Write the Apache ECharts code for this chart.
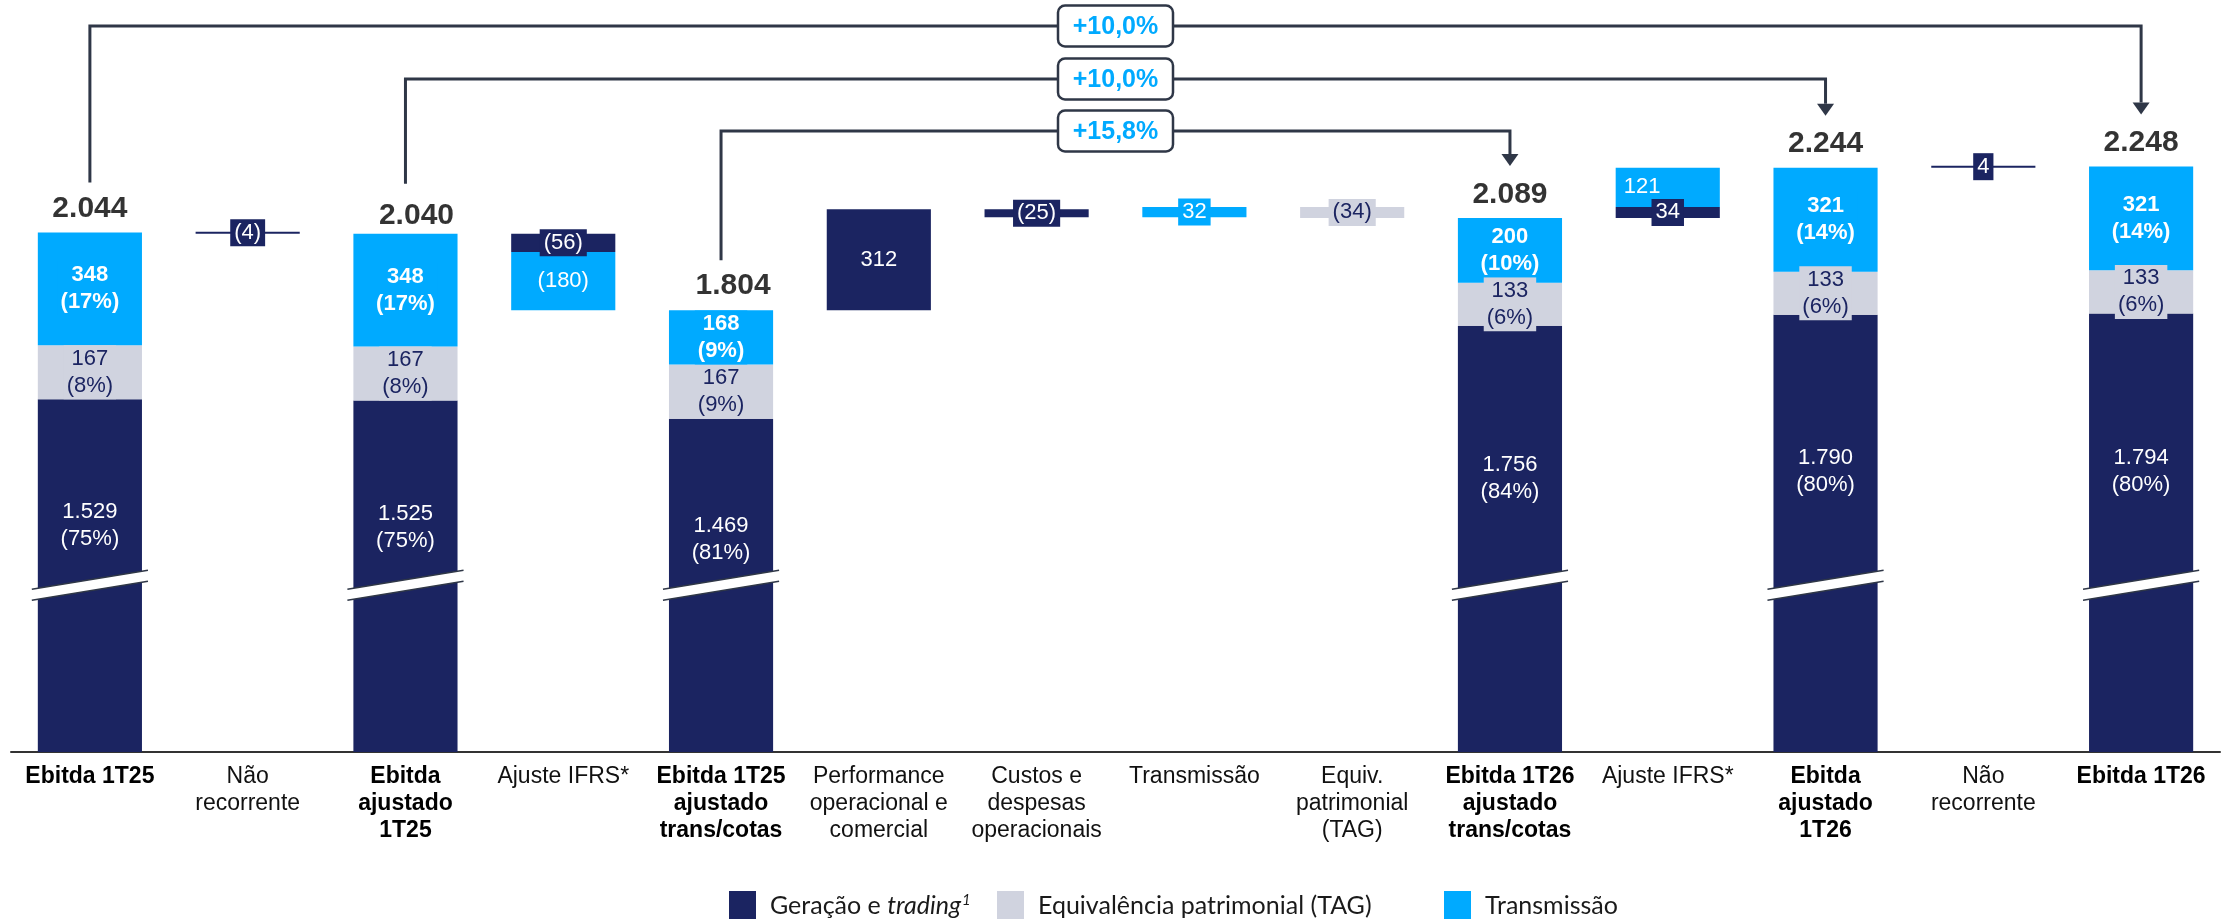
<!DOCTYPE html>
<html><head><meta charset="utf-8">
<script src="https://cdn.jsdelivr.net/npm/echarts@6/dist/echarts.min.js"></script>
<style>html,body{margin:0;padding:0;background:#fff}#c{width:2234px;height:919px}</style>
</head><body><div id="c"></div>
<script>
// ---------------- DATA ----------------
const categories = ['Ebitda 1T25','Não\nrecorrente','Ebitda\najustado\n1T25','Ajuste IFRS*','Ebitda 1T25\najustado\ntrans/cotas','Performance\noperacional e\ncomercial','Custos e\ndespesas\noperacionais','Transmissão','Equiv.\npatrimonial\n(TAG)','Ebitda 1T26\najustado\ntrans/cotas','Ajuste IFRS*','Ebitda\najustado\n1T26','Não\nrecorrente','Ebitda 1T26'];
const isTotal = [true,false,true,false,true,false,false,false,false,true,false,true,false,true];
const geracao      = [1529,null,1525,null,1469,null,null,null,null,1756,null,1790,null,1794];
const equivalencia = [167,null,167,null,167,null,null,null,null,133,null,133,null,133];
const transmissao  = [348,null,348,null,168,null,null,null,null,200,null,321,null,321];
const deltaGeracao      = [null,-4,null,-56,null,312,-25,null,null,null,34,null,4,null];
const deltaEquivalencia = [null,null,null,null,null,null,null,null,-34,null,null,null,null,null];
const deltaTransmissao  = [null,null,null,-180,null,null,null,32,null,null,121,null,null,null];
const seriesNames = ['Geração e trading','Equivalência patrimonial (TAG)','Transmissão'];
const compareFrom = [0,2,4];
const compareTo   = [13,11,9];

// ---------------- STYLE ----------------
const COLORS = ['#1B2461','#D0D3DF','#00AAFF'];
const LINE = '#2F3747';
const FONT = '"Liberation Sans", Arial, sans-serif';
const navyLabelDist = {0:99,2:100,4:94,9:126,11:130,13:131};
const totalLabelShift = {2:[11,5],4:[12,-1]};
const levelY = [26,79,131];
const legendLeft = [724, 992, 1439];
const BREAK_AT = 955;

// ---------------- BUILD ----------------
const totals = categories.map((c,i)=> isTotal[i] ? geracao[i]+equivalencia[i]+transmissao[i] : null);
const fmtN = v => { const s = String(Math.abs(v)).replace(/\B(?=(\d{3})+(?!\d))/g,'.'); return v<0 ? '('+s+')' : s; };

const segs = [];
let level = 0;
categories.forEach((c,i)=>{
  if (isTotal[i]) { level = totals[i]; segs.push(null); return; }
  const list = [];
  [deltaGeracao, deltaEquivalencia, deltaTransmissao].forEach((arr,k)=>{
    const v = arr[i]; if (v == null) return;
    const a = level, b = level + v; level = b;
    list.push({k, v, lo: Math.min(a,b), hi: Math.max(a,b)});
  });
  list.sort((p,q)=>p.lo-q.lo);
  segs.push(list);
});

const baseData = categories.map((c,i)=> isTotal[i] ? 0 : segs[i][0].lo);
const totalVals = [geracao, equivalencia, transmissao];

function deltaItem(s, i){
  const small = Math.abs(s.v) < 60;
  const txtColor = s.k === 1 ? COLORS[0] : '#fff';
  const lab = {show:true, formatter: fmtN(s.v), color: txtColor, fontFamily: FONT, fontSize: 22, lineHeight: 27,
               position: 'inside'};
  if (small) { lab.backgroundColor = COLORS[s.k]; lab.padding = [0,4]; }
  if (i === 10 && s.k === 2) { lab.position = 'insideLeft'; lab.distance = 8; }
  return {value: s.hi - s.lo, itemStyle:{color: COLORS[s.k]}, label: lab};
}

const stackSeries = [0,1,2].map(L => {
  const data = categories.map((c,i)=>{
    if (isTotal[i]) {
      const v = totalVals[L][i];
      const pct = Math.round(v / totals[i] * 100);
      const lab = {show:true, formatter: fmtN(v) + '\n(' + pct + '%)', fontFamily: FONT, fontSize: 22, lineHeight: 27};
      if (L === 0) { lab.color = '#fff'; lab.position = 'insideTop'; lab.distance = navyLabelDist[i]; }
      if (L === 1) { lab.color = COLORS[0]; lab.position = 'inside'; lab.backgroundColor = COLORS[1]; lab.padding = [0,3]; }
      if (L === 2) { lab.color = '#fff'; lab.fontWeight = 'bold'; lab.position = 'inside'; lab.backgroundColor = COLORS[2]; lab.padding = [0,3]; }
      return {value: v, label: lab};
    }
    const s = segs[i][L];
    if (!s) return {value: 0, label:{show:false}};
    return deltaItem(s, i);
  });
  return {
    name: seriesNames[L], type:'bar', stack:'w', barWidth:'66%', barMinHeight: L===0 ? 2 : 0,
    itemStyle:{color: COLORS[L]}, data, z: 3, clip: true
  };
});

const baseSeries = {
  name:'_base', type:'bar', stack:'w', barWidth:'66%', silent:true,
  itemStyle:{color:'rgba(0,0,0,0)'}, data: baseData, label:{show:false}
};

const totalSeries = {
  name:'_tot', type:'scatter', symbolSize:1, itemStyle:{color:'rgba(0,0,0,0)'}, silent:true, z:5,
  data: categories.map((c,i)=> isTotal[i] ? {value:[i, totals[i]],
    label:{offset: totalLabelShift[i] ? [totalLabelShift[i][0], totalLabelShift[i][1]] : [0,0]}} : null).filter(Boolean),
  label:{show:true, position:'top', distance:8, formatter: p => fmtN(p.value[1]),
    fontFamily: FONT, fontWeight:'bold', fontSize:30, lineHeight:30, color:'#000'}
};

const breakSeries = {
  name:'_break', type:'custom', silent:true, z:6,
  data: categories.map((c,i)=> isTotal[i] ? [i, BREAK_AT] : null).filter(Boolean),
  renderItem(params, api){
    const c = api.coord([api.value(0), api.value(1)]);
    const w = api.size([1,0])[0]*0.66 + 12;
    const xl = c[0]-w/2, xr = c[0]+w/2, cy = c[1];
    return {type:'group', children:[
      {type:'polygon', shape:{points:[[xl,cy+4],[xr,cy-15],[xr,cy-4],[xl,cy+15]]}, style:{fill:'#fff'}},
      {type:'line', shape:{x1:xl,y1:cy+4,x2:xr,y2:cy-15}, style:{stroke:LINE, lineWidth:1.5}},
      {type:'line', shape:{x1:xl,y1:cy+15,x2:xr,y2:cy-4}, style:{stroke:LINE, lineWidth:1.5}}
    ]};
  }
};

const connSeries = {
  name:'_conn', type:'custom', silent:true, z:7,
  data: compareFrom.map((f,j)=>[f, compareTo[j]]),
  renderItem(params, api){
    const f = api.value(0), t = api.value(1);
    const p1 = api.coord([f, totals[f]]), p2 = api.coord([t, totals[t]]);
    const cs = params.coordSys;
    const ly = levelY[params.dataIndex];
    const y1 = p1[1]-50, y2 = p2[1]-52, AH = 12;
    const cx = cs.x + cs.width/2;
    const pct = (totals[t]/totals[f]-1)*100;
    const txt = (pct>=0?'+':'') + pct.toFixed(1).replace('.',',') + '%';
    return {type:'group', children:[
      {type:'polyline', shape:{points:[[p1[0],y1],[p1[0],ly],[p2[0],ly],[p2[0],y2-AH]]}, style:{stroke:LINE, lineWidth:3, fill:null}},
      {type:'polygon', shape:{points:[[p2[0]-8.5,y2-AH],[p2[0]+8.5,y2-AH],[p2[0],y2]]}, style:{fill:LINE}},
      {type:'rect', shape:{x:cx-57.5, y:ly-20.5, width:115, height:41, r:7}, style:{fill:'#fff', stroke:LINE, lineWidth:2.5}},
      {type:'text', style:{text:txt, x:cx, y:ly+1, align:'center', verticalAlign:'middle', font:'bold 25px "Liberation Sans", Arial', fill:COLORS[2]}}
    ]};
  }
};

const legendText = {fontFamily:'Lato, "Open Sans", sans-serif', fontSize:25, color:'#1a1a1a', padding:[0,0,0,9],
  rich:{a:{fontFamily:'Lato', fontSize:25, color:'#1a1a1a'},
        i:{fontFamily:'Lato', fontStyle:'italic', fontSize:25, color:'#1a1a1a'},
        s:{fontFamily:'Lato', fontStyle:'italic', fontSize:15, color:'#1a1a1a', verticalAlign:'top', padding:[0,0,12,1]}}};
const legends = seriesNames.map((n,j)=>({
  data:[n], left: legendLeft[j], top:886, icon:'rect', itemWidth:27, itemHeight:30, selectedMode:false,
  textStyle: legendText,
  formatter: nm => nm === seriesNames[0] ? '{a|Geração e }{i|trading}{s|1}' : '{a|'+nm+'}'
}));

const chart = echarts.init(document.getElementById('c'), null, {renderer:'canvas', width:2234, height:919});
chart.setOption({
  animation:false,
  backgroundColor:'#fff',
  grid:{left:11, right:14, top:20, bottom:167, containLabel:false},
  xAxis:{type:'category', data:categories,
    axisTick:{show:false},
    axisLine:{lineStyle:{color:'#333', width:2}},
    axisLabel:{interval:0, margin:11, color:'#000', fontFamily:FONT, fontSize:23, lineHeight:27,
      formatter:(v,i)=> v.split('\n').map(l => isTotal[i] ? '{b|'+l+'}' : '{r|'+l+'}').join('\n'),
      rich:{b:{fontWeight:'bold', fontFamily:FONT, fontSize:23, lineHeight:27, color:'#000'},
            r:{fontFamily:FONT, fontSize:23, lineHeight:27, color:'#111'}}}
  },
  yAxis:{type:'value', min:440, max:2700, show:false, splitLine:{show:false}},
  legend: legends,
  series:[baseSeries, ...stackSeries, totalSeries, breakSeries, connSeries]
});
</script></body></html>
